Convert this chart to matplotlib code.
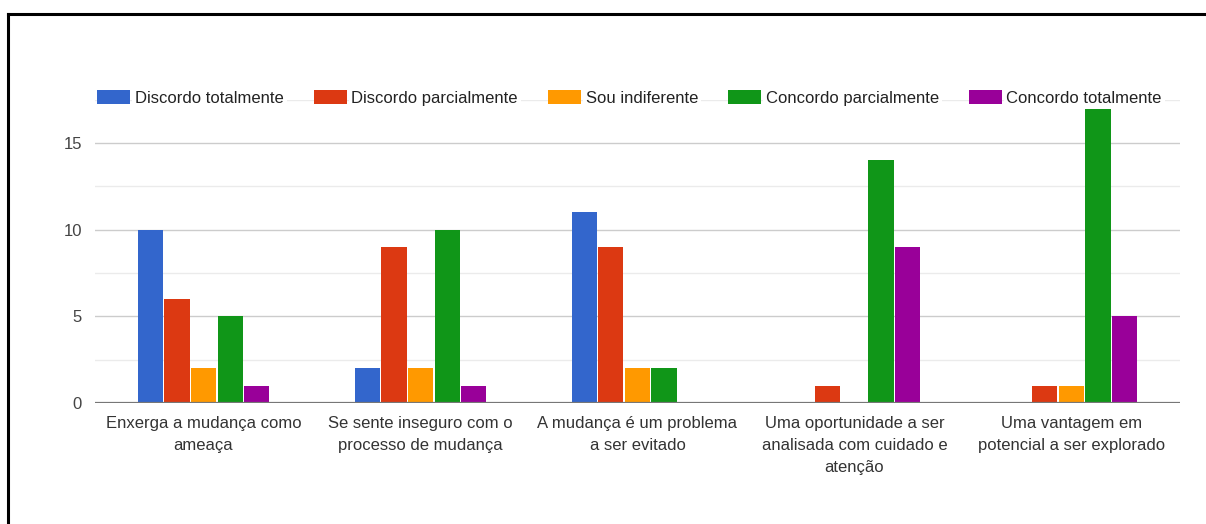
import matplotlib.pyplot as plt
import numpy as np
from matplotlib.lines import Line2D

plt.rcParams['font.family'] = ['Liberation Sans', 'DejaVu Sans']

categories = [
    "Enxerga a mudança como\nameaça",
    "Se sente inseguro com o\nprocesso de mudança",
    "A mudança é um problema\na ser evitado",
    "Uma oportunidade a ser\nanalisada com cuidado e\natenção",
    "Uma vantagem em\npotencial a ser explorado",
]
series = [
    "Discordo totalmente",
    "Discordo parcialmente",
    "Sou indiferente",
    "Concordo parcialmente",
    "Concordo totalmente",
]
discordo_total = [10, 2, 11, 0, 0]
discordo_parcial = [6, 9, 9, 1, 1]
indiferente = [2, 2, 2, 0, 1]
concordo_parcial = [5, 10, 2, 14, 17]
concordo_total = [1, 1, 0, 9, 5]
values = [discordo_total, discordo_parcial, indiferente, concordo_parcial, concordo_total]
colors = ["#3366cc", "#dc3912", "#ff9900", "#109618", "#990099"]

fig = plt.figure(figsize=(12.06, 5.24), dpi=100)
ax = fig.add_axes([0.0788, 0.2309, 0.8996, 0.579])

x = np.arange(len(categories))
step = 0.1225
width = 0.116
for i, (name, vals, c) in enumerate(zip(series, values, colors)):
    ax.bar(x + (i - 2) * step, vals, width, color=c, label=name, zorder=3)

ax.set_xlim(-0.5, 4.5)
ax.set_ylim(0, 17.5)
ax.set_yticks([0, 5, 10, 15])
ax.set_yticks([2.5, 7.5, 12.5, 17.5], minor=True)
ax.grid(axis='y', which='major', color='#cccccc', linewidth=1, zorder=0)
ax.grid(axis='y', which='minor', color='#ebebeb', linewidth=1, zorder=0)
ax.axhline(0, color='#777777', linewidth=1.6, zorder=4)
for s in ax.spines.values():
    s.set_visible(False)
ax.tick_params(axis='both', which='both', length=0)
ax.tick_params(axis='y', pad=9.5, labelsize=12, labelcolor='#444444')
ax.tick_params(axis='x', pad=9.5, labelsize=12, labelcolor='#333333')
ax.set_xticks(x)
ax.set_xticklabels(categories, linespacing=1.58)

leg = fig.legend(loc='center', bbox_to_anchor=(0.522, 0.813), ncol=5,
                 frameon=False, fontsize=12, handlelength=1.98, handleheight=0.96,
                 handletextpad=0.28, columnspacing=1.8, borderaxespad=0)
for t in leg.get_texts():
    t.set_color('#222222')
    t.set_bbox(dict(facecolor='white', edgecolor='none', pad=2))

# frame along the top and left edges
fig.add_artist(Line2D([0.0066, 1.0], [0.9733, 0.9733], color='black', linewidth=2.2,
                      transform=fig.transFigure))
fig.add_artist(Line2D([0.0066, 0.0066], [0.0, 0.9733], color='black', linewidth=2.2,
                      transform=fig.transFigure))

fig.savefig("out.png", dpi=100, facecolor='white')
